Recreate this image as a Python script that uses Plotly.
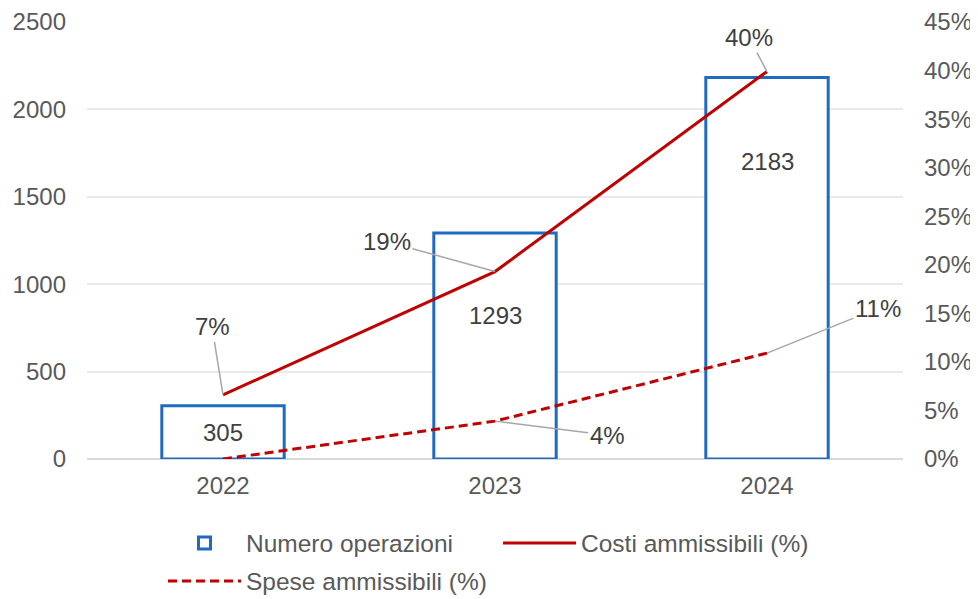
import plotly.graph_objects as go

# ---- data ----
years = ["2022", "2023", "2024"]
numero_operazioni = [305, 1293, 2183]
costi_ammissibili = [0.066, 0.193, 0.399]
spese_ammissibili = [0.0, 0.039, 0.109]
left_ticks = [0, 500, 1000, 1500, 2000, 2500]
right_ticks = [0, 0.05, 0.10, 0.15, 0.20, 0.25, 0.30, 0.35, 0.40, 0.45]

BLUE = "#1F6BBF"
RED = "#C00000"
TXT = "#595959"
LBL = "#404040"
FONT = "Liberation Sans, Arial, sans-serif"
FS = 24
LFS = 24.5

fig = go.Figure()
fig.add_trace(go.Bar(
    x=years, y=numero_operazioni, name="Numero operazioni",
    marker=dict(color="white", line=dict(color=BLUE, width=3)),
    width=0.45, legend="legend", hoverinfo="skip",
))
fig.add_trace(go.Scatter(
    x=years, y=costi_ammissibili, name="Costi ammissibili (%)", yaxis="y2",
    mode="lines", line=dict(color=RED, width=3), legend="legend2", hoverinfo="skip",
))
fig.add_trace(go.Scatter(
    x=years, y=spese_ammissibili, name="Spese ammissibili (%)", yaxis="y2",
    mode="lines", line=dict(color=RED, width=3, dash="9px,5px"), legend="legend3",
    hoverinfo="skip",
))

# bar value labels (inside bars); x given as category index
bar_label_shift = [-27, -83, -84]
for i, (v, s) in enumerate(zip(numero_operazioni, bar_label_shift)):
    fig.add_annotation(x=i, y=v, xref="x", yref="y", text=str(v), showarrow=False,
                       yshift=s, font=dict(family=FONT, size=FS, color=LBL))

# percentage labels with leader lines
costi_offsets = [(-11, -68), (-108, -30), (-18, -34)]
spese_offsets = [None, (112, 14), (111, -45)]
for i, (v, off) in enumerate(zip(costi_ammissibili, costi_offsets)):
    fig.add_annotation(x=i, y=v, xref="x", yref="y2", text=f"{v:.0%}",
                       showarrow=True, arrowhead=0, arrowwidth=1.5, arrowcolor="#A6A6A6",
                       standoff=0, ax=off[0], ay=off[1],
                       font=dict(family=FONT, size=FS, color=LBL))
for i, (v, off) in enumerate(zip(spese_ammissibili, spese_offsets)):
    if off is None:
        continue
    fig.add_annotation(x=i, y=v, xref="x", yref="y2", text=f"{v:.0%}",
                       showarrow=True, arrowhead=0, arrowwidth=1.5, arrowcolor="#A6A6A6",
                       standoff=0, ax=off[0], ay=off[1],
                       font=dict(family=FONT, size=FS, color=LBL))

legend_common = dict(orientation="h", yanchor="middle", xanchor="left",
                     xref="container", yref="container", itemwidth=73,
                     bgcolor="rgba(0,0,0,0)", font=dict(family=FONT, size=LFS, color=TXT))

fig.update_layout(
    width=970, height=591,
    margin=dict(l=79, r=75, t=14, b=140, autoexpand=False),
    paper_bgcolor="white", plot_bgcolor="white",
    font=dict(family=FONT, size=FS, color=TXT),
    showlegend=True,
    legend=dict(x=0.1598, y=0.0948, **legend_common),
    legend2=dict(x=0.5052, y=0.0948, **legend_common),
    legend3=dict(x=0.1598, y=0.0305, **legend_common),
    xaxis=dict(type="category", range=[-0.5, 2.5], showgrid=False, showline=False,
               ticks="", ticklabelstandoff=10, automargin=False,
               tickfont=dict(family=FONT, size=FS, color=TXT)),
    yaxis=dict(range=[0, 2500], tickvals=left_ticks, showgrid=True, gridcolor="#E9E9E9",
               gridwidth=1.5, zeroline=True, zerolinecolor="#D9D9D9", zerolinewidth=2,
               showline=False, ticks="", ticklabelstandoff=20, automargin=False,
               tickfont=dict(family=FONT, size=FS, color=TXT)),
    yaxis2=dict(range=[0, 0.45], tickvals=right_ticks, tickformat=".0%", overlaying="y",
                side="right", showgrid=False, zeroline=False, showline=False, ticks="",
                ticklabelstandoff=20, automargin=False,
                tickfont=dict(family=FONT, size=FS, color=TXT)),
    bargap=0.55,
)

fig.write_html("out.html")
